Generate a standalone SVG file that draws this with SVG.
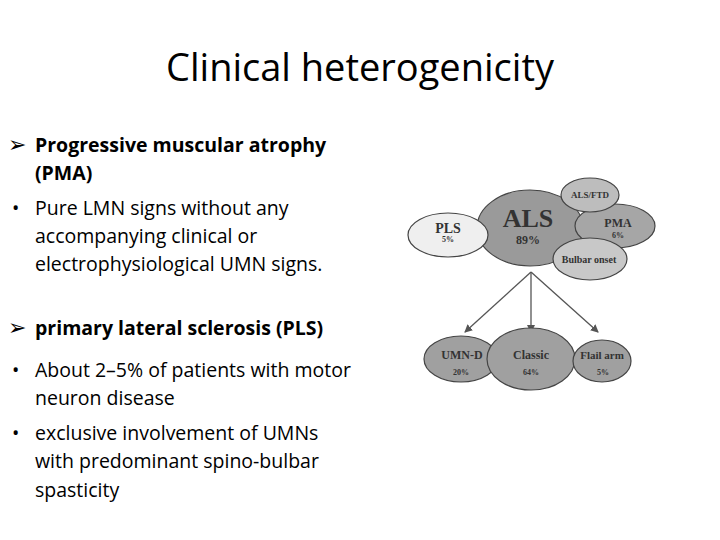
<svg xmlns="http://www.w3.org/2000/svg" width="720" height="540" viewBox="0 0 720 540">
<defs>
<marker id="ah" markerWidth="8" markerHeight="8" refX="7" refY="4" orient="auto" markerUnits="userSpaceOnUse"><path d="M0,0 L8,4 L0,8 Z" fill="#555"/></marker>
</defs>
<style>
.t{font-family:"Open Sans","Liberation Sans",sans-serif;font-size:19.5px;fill:#000}
.b{font-weight:bold}
.n{font-family:"Liberation Serif",serif;font-weight:bold;fill:#333;text-anchor:middle}
.e{stroke:#444;stroke-width:1.2}
.ar{font-family:"DejaVu Sans",sans-serif;font-size:22px}
</style>
<rect width="720" height="540" fill="#fff"/>
<text x="360" y="81" text-anchor="middle" font-family="Open Sans,Liberation Sans,sans-serif" font-size="38">Clinical heterogenicity</text>
<g class="t">
<text x="8" y="152" class="ar">➢</text>
<text x="35" y="152" class="b">Progressive muscular atrophy</text>
<text x="35" y="180" class="b">(PMA)</text>
<text x="12" y="215">•</text>
<text x="35" y="215">Pure LMN signs without any</text>
<text x="35" y="243">accompanying clinical or</text>
<text x="35" y="271">electrophysiological UMN signs.</text>
<text x="8" y="335" class="ar">➢</text>
<text x="35" y="335" class="b">primary lateral sclerosis (PLS)</text>
<text x="12" y="377">•</text>
<text x="35" y="377">About 2–5% of patients with motor</text>
<text x="35" y="405">neuron disease</text>
<text x="12" y="440">•</text>
<text x="35" y="440">exclusive involvement of UMNs</text>
<text x="35" y="468">with predominant spino-bulbar</text>
<text x="35" y="497">spasticity</text>
</g>
<g id="connectors" stroke="#555" stroke-width="1.3" fill="none">
<line x1="531" y1="272" x2="465" y2="332" marker-end="url(#ah)"/>
<line x1="531" y1="272" x2="531" y2="332" marker-end="url(#ah)"/>
<line x1="531" y1="272" x2="598" y2="332" marker-end="url(#ah)"/>
</g>
<g id="als"><ellipse class="e" cx="530" cy="228" rx="53" ry="38" fill="#9a9a9a"/><text class="n" x="528" y="227" font-size="26">ALS</text><text class="n" x="528" y="244" font-size="12">89%</text></g>
<g id="pls"><ellipse class="e" cx="448" cy="235" rx="40" ry="22" fill="#efefef"/><text class="n" x="448" y="233" font-size="14">PLS</text><text class="n" x="448" y="242" font-size="8">5%</text></g>
<g id="pma"><ellipse class="e" cx="615" cy="226" rx="40" ry="22" fill="#a6a6a6"/><text class="n" x="618" y="227" font-size="12">PMA</text><text class="n" x="618" y="238" font-size="8">6%</text></g>
<g id="alsftd"><ellipse class="e" cx="590" cy="195" rx="29" ry="17" fill="#bdbdbd"/><text class="n" x="590" y="198" font-size="9">ALS/FTD</text></g>
<g id="bulbar"><ellipse class="e" cx="590" cy="259" rx="37" ry="21" fill="#c8c8c8"/><text class="n" x="589" y="263" font-size="10">Bulbar onset</text></g>
<g id="umnd"><ellipse class="e" cx="461" cy="359" rx="37" ry="23" fill="#a0a0a0"/><text class="n" x="462" y="359" font-size="12">UMN-D</text><text class="n" x="461" y="375" font-size="8">20%</text></g>
<g id="classic"><ellipse class="e" cx="531" cy="359" rx="44" ry="31" fill="#a0a0a0"/><text class="n" x="531" y="359" font-size="12">Classic</text><text class="n" x="531" y="375" font-size="8">64%</text></g>
<g id="flail"><ellipse class="e" cx="602" cy="361" rx="29" ry="21" fill="#a0a0a0"/><text class="n" x="602" y="359" font-size="11">Flail arm</text><text class="n" x="603" y="375" font-size="8">5%</text></g>
</svg>
